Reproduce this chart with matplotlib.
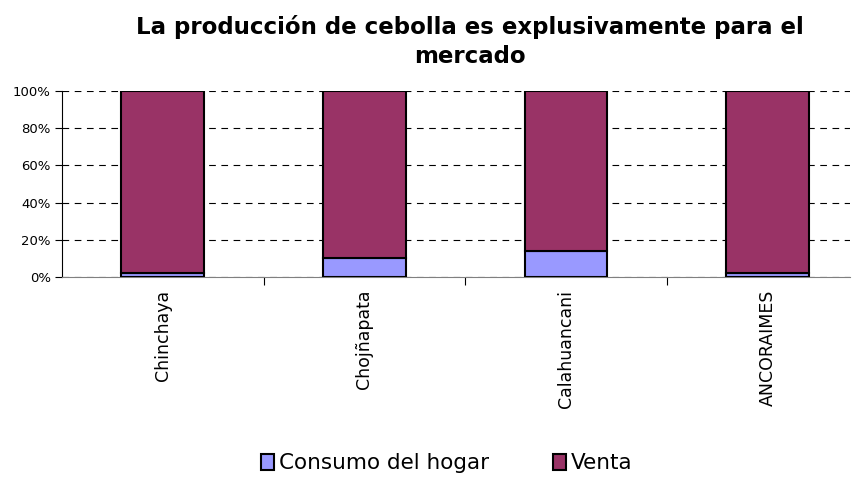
import numpy as np
import matplotlib.pyplot as plt
from matplotlib.ticker import PercentFormatter

plt.rcParams['font.family'] = ['DejaVu Sans']

comunidades = ['Chinchaya', 'Chojñapata', 'Calahuancani', 'ANCORAIMES']
consumo = [2, 10, 14, 2]
venta = [98, 90, 86, 98]

fig = plt.figure(figsize=(8.56, 4.82), dpi=100)
ax = fig.add_axes([62 / 856, 1 - 277 / 482, (850 - 62) / 856, (277 - 91) / 482])

x = np.arange(len(comunidades))
w = 0.41
b1 = ax.bar(x, consumo, w, color='#9999FF', edgecolor='black', linewidth=1.5,
            label='Consumo del hogar', zorder=3)
b2 = ax.bar(x, venta, w, bottom=consumo, color='#993366', edgecolor='black',
            linewidth=1.5, label='Venta', zorder=3)

ax.set_xlim(-0.5, 3.41)
ax.set_ylim(0, 100)
ax.set_yticks(np.arange(0, 101, 20))
ax.yaxis.set_major_formatter(PercentFormatter(decimals=0))
ax.yaxis.grid(True, linestyle=(0, (6, 5)), color='black', linewidth=0.8, zorder=0)
ax.tick_params(axis='y', labelsize=9.5, length=5, direction='out', width=0.8, pad=3)

ax.set_xticks(x)
ax.set_xticklabels(comunidades, rotation=90, fontsize=12.5)
ax.tick_params(axis='x', length=0, pad=9)
ax.set_xticks([0.5, 1.5, 2.5], minor=True)
ax.tick_params(axis='x', which='minor', length=6, direction='out', width=0.8, color='black')

for s in ['top', 'right']:
    ax.spines[s].set_visible(False)
ax.spines['left'].set_color('black')
ax.spines['bottom'].set_color('#808080')

fig.text(470 / 856, 1 - 15 / 482,
         'La producción de cebolla es explusivamente para el\nmercado',
         ha='center', va='top', fontsize=16.5, fontweight='bold', linespacing=1.35)

fig.legend(handles=[b1, b2], loc='lower center', bbox_to_anchor=(0.522, -0.022), ncol=2,
           frameon=False, fontsize=15.5, handlelength=0.6, handleheight=0.8,
           handletextpad=0.2, columnspacing=3.0)

plt.savefig('out.png', dpi=100)
